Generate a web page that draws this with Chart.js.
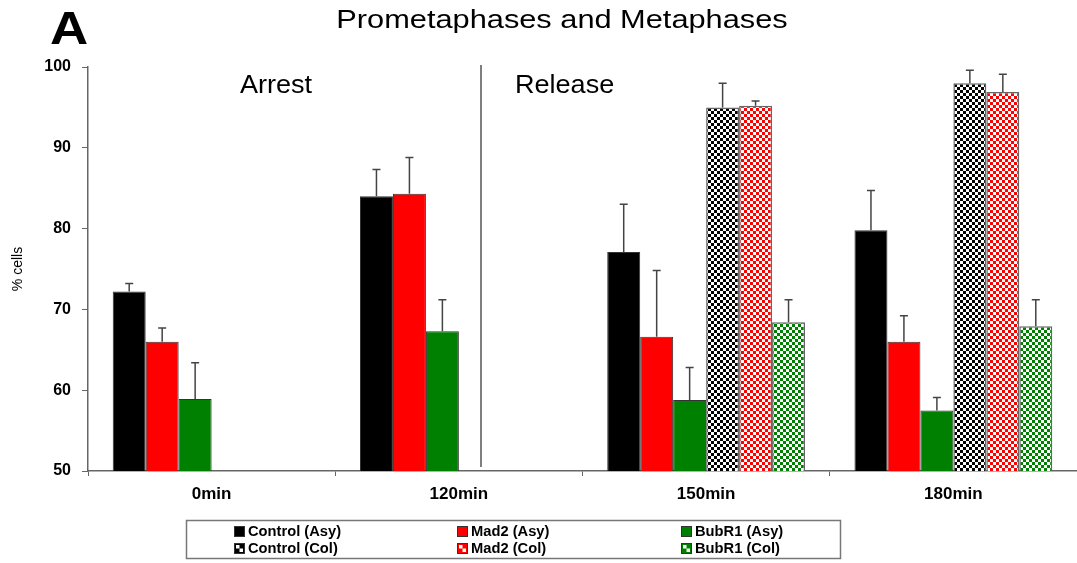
<!DOCTYPE html>
<html>
<head>
<meta charset="utf-8">
<title>Prometaphases and Metaphases</title>
<script src="https://cdn.jsdelivr.net/npm/chart.js@4/dist/chart.umd.min.js"></script>
<style>
  body { margin: 0; background: #fff; }
  #wrap { width: 1077px; height: 563px; }
</style>
</head>
<body>
<div id="wrap"><canvas id="my-chart" width="1077" height="563"></canvas></div>
<script>
const categories = ["0min", "120min", "150min", "180min"];
const seriesLabels = ["Control (Asy)", "Mad2 (Asy)", "BubR1 (Asy)", "Control (Col)", "Mad2 (Col)", "BubR1 (Col)"];
const controlAsy = [72.2, 84.0, 77.1, 79.8];
const controlAsyErr = [1.0, 3.3, 5.9, 4.9];
const mad2Asy = [66.0, 84.3, 66.6, 66.0];
const mad2AsyErr = [1.7, 4.5, 8.2, 3.2];
const bubr1Asy = [58.9, 67.3, 58.8, 57.5];
const bubr1AsyErr = [4.5, 3.9, 4.0, 1.6];
const controlCol = [null, null, 95.0, 98.0];
const controlColErr = [null, null, 3.0, 1.6];
const mad2Col = [null, null, 95.2, 96.9];
const mad2ColErr = [null, null, 0.6, 2.2];
const bubr1Col = [null, null, 68.4, 67.9];
const bubr1ColErr = [null, null, 2.8, 3.3];
const yTicks = [50, 60, 70, 80, 90, 100];

(function() {
  window.addEventListener("load", main);

  const FONT = "'Liberation Sans', Arial, Helvetica, sans-serif";
  const BLACK = "#000000";
  const RED = "#ff0000";
  const GREEN = "#008000";

  function main() {
    Chart.defaults.font.family = FONT;
    Chart.defaults.color = "#000";

    let values = [controlAsy, mad2Asy, bubr1Asy, controlCol, mad2Col, bubr1Col];
    let errors = [controlAsyErr, mad2AsyErr, bubr1AsyErr, controlColErr, mad2ColErr, bubr1ColErr];
    let colors = [BLACK, RED, GREEN, BLACK, RED, GREEN];

    let datasets = [];
    for (let i = 0; i < values.length; i++) {
      let checked = i >= 3;
      datasets.push({
        label: seriesLabels[i],
        data: values[i],
        errors: errors[i],
        baseColor: colors[i],
        checked: checked,
        backgroundColor: checked ? makeChecker(colors[i]) : colors[i],
        borderColor: checked ? "#666" : "#333",
        borderWidth: checked ? 1.5 : 1,
        categoryPercentage: 0.8,
        barPercentage: 1.0
      });
    }

    let ctx = document.getElementById("my-chart").getContext("2d");
    new Chart(ctx, {
      type: "bar",
      data: { labels: categories, datasets: datasets },
      options: {
        responsive: false,
        animation: false,
        devicePixelRatio: 1,
        layout: { padding: { top: 67, left: 0, right: 0, bottom: 0 } },
        plugins: {
          legend: { display: false },
          title: { display: false },
          tooltip: { enabled: false }
        },
        scales: {
          x: {
            grid: { offset: true, drawOnChartArea: false, drawTicks: true, tickLength: 5, color: "#666" },
            border: { color: "#666", width: 1.5 },
            ticks: { font: { size: 17, weight: "bold" }, color: "#000", padding: 8 },
            afterFit: function(scale) { scale.height = 92; }
          },
          y: {
            min: 50,
            max: 100,
            afterBuildTicks: function(scale) {
              scale.ticks = yTicks.map(function(v) { return { value: v }; });
            },
            grid: { drawOnChartArea: false, drawTicks: true, tickLength: 6, color: "#666" },
            border: { color: "#666", width: 1.5 },
            ticks: { font: { size: 16, weight: "bold" }, color: "#000", padding: 11 },
            title: {
              display: true,
              text: "% cells",
              font: { size: 14 },
              color: "#000",
              padding: { top: 10, bottom: 0 }
            },
            afterFit: function(scale) { scale.width = 88; }
          }
        }
      },
      plugins: [errorBars, annotations, boxLegend]
    });
  }

  // small checkerboard used for the (Col) bars
  function makeChecker(color) {
    let tile = document.createElement("canvas");
    tile.width = 6;
    tile.height = 6;
    let t = tile.getContext("2d");
    t.fillStyle = "#ffffff";
    t.fillRect(0, 0, 6, 6);
    t.fillStyle = color;
    t.fillRect(0, 0, 3, 3);
    t.fillRect(3, 3, 3, 3);
    return t.createPattern(tile, "repeat");
  }

  const errorBars = {
    id: "errorBars",
    afterDatasetsDraw: function(chart) {
      let c = chart.ctx;
      let yScale = chart.scales.y;
      c.save();
      c.strokeStyle = "#444";
      c.lineWidth = 1.5;
      chart.data.datasets.forEach(function(ds, i) {
        let meta = chart.getDatasetMeta(i);
        meta.data.forEach(function(bar, j) {
          let v = ds.data[j];
          let e = ds.errors[j];
          if (v === null || e === null) {
            return;
          }
          let top = yScale.getPixelForValue(v + e);
          c.beginPath();
          c.moveTo(bar.x, bar.y);
          c.lineTo(bar.x, top);
          c.moveTo(bar.x - 4, top);
          c.lineTo(bar.x + 4, top);
          c.stroke();
        });
      });
      c.restore();
    }
  };

  function stretchText(c, text, x, y, sx, align) {
    c.save();
    c.translate(x, y);
    c.scale(sx, 1);
    c.textAlign = align;
    c.fillText(text, 0, 0);
    c.restore();
  }

  const annotations = {
    id: "annotations",
    afterDraw: function(chart) {
      let c = chart.ctx;
      let area = chart.chartArea;
      c.save();
      c.fillStyle = "#000";
      c.textBaseline = "alphabetic";

      c.font = "bold 46px " + FONT;
      stretchText(c, "A", 50, 44, 1.15, "left");

      c.font = "25px " + FONT;
      stretchText(c, "Prometaphases and Metaphases", 562, 28, 1.23, "center");

      c.font = "26px " + FONT;
      stretchText(c, "Arrest", 240, 93, 1.04, "left");
      stretchText(c, "Release", 515, 93, 1.04, "left");

      // divider between arrest and release
      c.strokeStyle = "#555";
      c.lineWidth = 1.5;
      c.beginPath();
      c.moveTo(481, area.top - 2);
      c.lineTo(481, area.bottom - 4);
      c.stroke();
      c.restore();
    }
  };

  const boxLegend = {
    id: "boxLegend",
    afterDraw: function(chart) {
      let c = chart.ctx;
      let colX = [234, 457, 681];
      let rowY = [531, 548];
      c.save();
      c.strokeStyle = "#777";
      c.lineWidth = 1.5;
      c.strokeRect(186.5, 520.5, 654, 38);
      c.font = "bold 14px " + FONT;
      c.textBaseline = "middle";
      chart.data.datasets.forEach(function(ds, i) {
        let x = colX[i % 3];
        let y = rowY[Math.floor(i / 3)];
        drawSwatch(c, x, y - 5, ds);
        c.fillStyle = "#000";
        stretchText(c, ds.label, x + 14, y + 1, 1.05, "left");
      });
      c.restore();
    }
  };

  function drawSwatch(c, x, y, ds) {
    let s = 11;
    c.fillStyle = ds.baseColor;
    c.fillRect(x, y, s, s);
    if (ds.checked) {
      c.fillStyle = "#fff";
      c.fillRect(x + 2, y + 2, 3.5, 3.5);
      c.fillRect(x + 5.5, y + 5.5, 3.5, 3.5);
    }
    c.strokeStyle = "#333";
    c.lineWidth = 1;
    c.strokeRect(x + 0.5, y + 0.5, s - 1, s - 1);
  }
})();
</script>
</body>
</html>
